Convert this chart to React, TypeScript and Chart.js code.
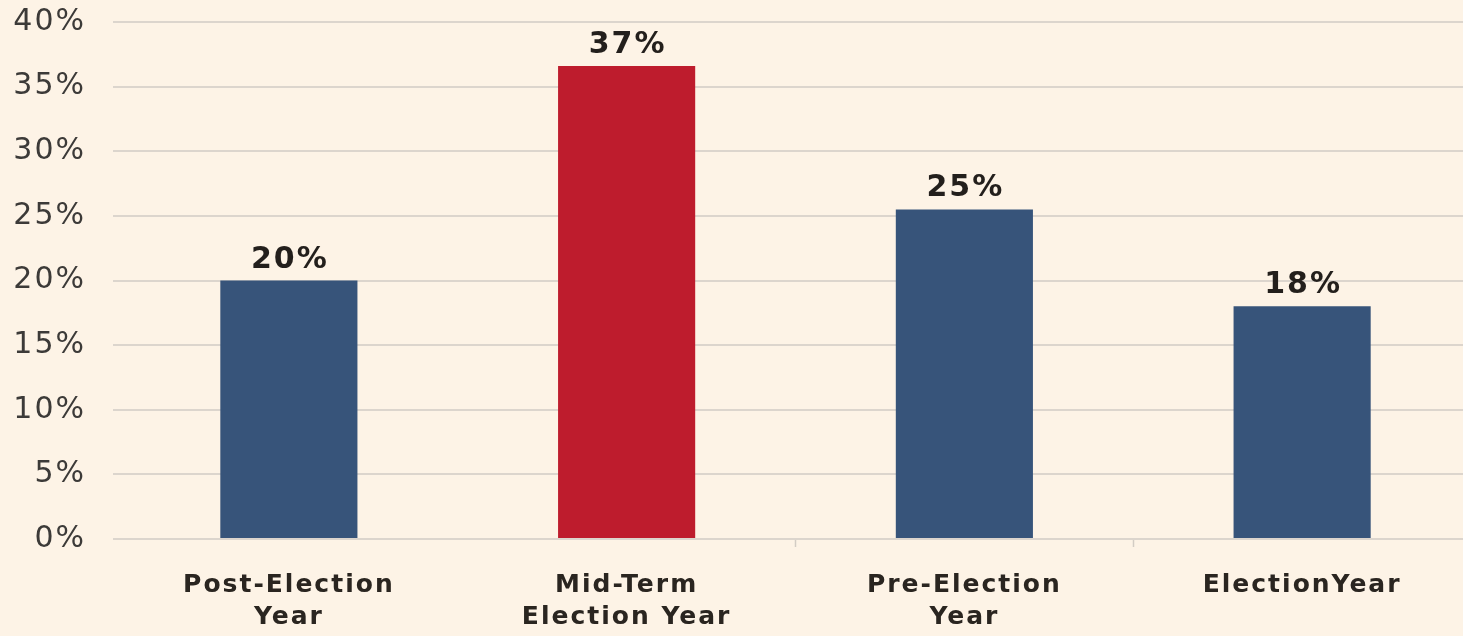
import React, { useEffect, useRef } from "react";
import { Chart, registerables } from "chart.js";

Chart.register(...registerables);

const categories: string[][] = [
  ["Post-Election", "Year"],
  ["Mid-Term", "Election Year"],
  ["Pre-Election", "Year"],
  ["ElectionYear"],
];
const values: number[] = [20, 36.6, 25.5, 18.0];
const valueLabels: string[] = ["20%", "37%", "25%", "18%"];
const barColors: string[] = ["#37547a", "#be1c2d", "#37547a", "#37547a"];
const yTickMin = 0;
const yTickMax = 40;
const yTickStep = 5;

const letterSpacingPlugin = {
  id: "letterSpacing",
  beforeDraw(chart: any) {
    try {
      chart.ctx.letterSpacing = "2px";
    } catch (e) {}
  },
};

const valueLabelPlugin = {
  id: "valueLabels",
  afterDatasetsDraw(chart: any) {
    const ctx = chart.ctx;
    const meta = chart.getDatasetMeta(0);
    ctx.save();
    try {
      ctx.letterSpacing = "2px";
    } catch (e) {}
    ctx.font = "bold 30px 'DejaVu Sans', sans-serif";
    ctx.fillStyle = "#231f1c";
    ctx.textAlign = "center";
    ctx.textBaseline = "alphabetic";
    meta.data.forEach((bar: any, i: number) => {
      ctx.fillText(valueLabels[i], bar.x + 1, bar.y - 13);
    });
    ctx.restore();
  },
};

export default function App() {
  const canvasRef = useRef<HTMLCanvasElement | null>(null);

  useEffect(() => {
    if (!canvasRef.current) return;
    const chart = new Chart(canvasRef.current, {
      type: "bar",
      data: {
        labels: categories,
        datasets: [
          {
            data: values,
            backgroundColor: barColors,
            borderWidth: 0,
            categoryPercentage: 1,
            barPercentage: 0.406,
          },
        ],
      },
      options: {
        animation: false,
        responsive: false,
        maintainAspectRatio: false,
        layout: { padding: { top: 22, right: 9, bottom: 0, left: 0 } },
        plugins: {
          legend: { display: false },
          tooltip: { enabled: false },
          title: { display: false },
        },
        scales: {
          x: {
            afterFit: (scale: any) => {
              scale.height = 97;
              scale.paddingLeft = 0;
              scale.paddingRight = 0;
            },
            border: { display: false },
            grid: {
              drawOnChartArea: false,
              drawTicks: true,
              tickLength: 8,
              tickWidth: 1.5,
              tickColor: (ctx: any) => (ctx.index <= 1 ? "rgba(0,0,0,0)" : "#d3ccc4"),
            },
            ticks: {
              padding: 22,
              color: "#2a2520",
              font: { family: "'DejaVu Sans', sans-serif", size: 25, weight: "bold", lineHeight: 1.28 },
              maxRotation: 0,
              autoSkip: false,
            },
          },
          y: {
            min: yTickMin,
            max: yTickMax,
            afterFit: (scale: any) => {
              scale.width = 120;
              scale.paddingTop = 0;
              scale.paddingBottom = 0;
            },
            border: { display: false },
            grid: {
              color: "#dcd5cd",
              lineWidth: 2,
              drawTicks: true,
              tickLength: 7,
              tickColor: "#dcd5cd",
            },
            ticks: {
              stepSize: yTickStep,
              padding: 27,
              color: "#3c3a38",
              font: { family: "'DejaVu Sans', sans-serif", size: 30, weight: "normal" },
              callback: (v: any) => `${v}%`,
            },
          },
        },
      },
      plugins: [letterSpacingPlugin, valueLabelPlugin],
    });
    return () => chart.destroy();
  }, []);

  return (
    <div
      style={{
        position: "absolute",
        left: 0,
        top: 0,
        width: 1463,
        height: 636,
        overflow: "hidden",
        background: "#fdf3e6",
      }}
    >
      <canvas ref={canvasRef} width={1480} height={636} style={{ display: "block" }} />
    </div>
  );
}
